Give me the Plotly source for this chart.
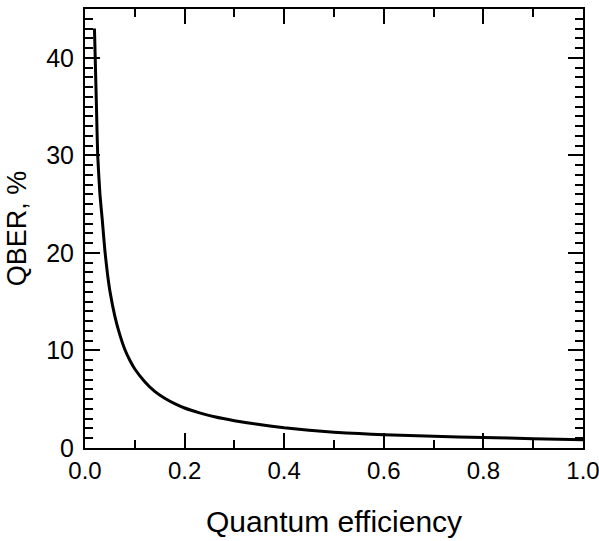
import plotly.graph_objects as go

efficiency = [0.019, 0.0205, 0.023, 0.0255, 0.03, 0.035, 0.04, 0.045, 0.05, 0.06, 0.07,
              0.08, 0.09, 0.1, 0.12, 0.14, 0.16, 0.18, 0.2, 0.23, 0.26, 0.3, 0.35,
              0.4, 0.45, 0.5, 0.55, 0.6, 0.7, 0.8, 0.9, 1.0]
qber = [43.0, 40.0, 35.0, 30.0, 26.0, 23.2, 20.2, 17.9, 16.1, 13.5, 11.6,
        10.1, 9.0, 8.1, 6.8, 5.8, 5.1, 4.55, 4.1, 3.6, 3.2, 2.8, 2.4,
        2.07, 1.82, 1.62, 1.48, 1.36, 1.2, 1.08, 0.95, 0.85]

x_ticks = [0.0, 0.2, 0.4, 0.6, 0.8, 1.0]
x_labels = ["0.0", "0.2", "0.4", "0.6", "0.8", "1.0"]
y_ticks = [0, 10, 20, 30, 40]

fig = go.Figure()
fig.add_trace(go.Scatter(x=efficiency, y=qber, mode="lines",
                         line=dict(color="black", width=3, shape="spline", smoothing=0.5),
                         showlegend=False, hoverinfo="skip", cliponaxis=True))

font = dict(family="Liberation Sans, Arial, sans-serif", color="black")
fig.update_layout(
    template="none",
    width=599, height=541,
    margin=dict(l=85, r=16, t=9, b=93),
    paper_bgcolor="white", plot_bgcolor="white",
    font=font,
    xaxis=dict(range=[0, 1], tickvals=x_ticks, ticktext=x_labels, automargin=False,
               ticklabeloverflow="allow",
               ticks="inside", ticklen=15, tickwidth=2, tickcolor="black",
               showline=True, linewidth=2, linecolor="black", mirror="ticks",
               showgrid=False, zeroline=False,
               tickfont=dict(size=24),
               minor=dict(dtick=0.1, ticks="inside", ticklen=8, tickwidth=2, tickcolor="black", showgrid=False),
               title=dict(text="Quantum efficiency", font=dict(size=30), standoff=28)),
    yaxis=dict(range=[0, 45], tickvals=y_ticks, automargin=False,
               ticklabeloverflow="allow",
               ticks="inside", ticklen=15, tickwidth=2, tickcolor="black",
               showline=True, linewidth=2, linecolor="black", mirror="ticks",
               showgrid=False, zeroline=False, ticklabelstandoff=4,
               tickfont=dict(size=25),
               minor=dict(dtick=1, ticks="inside", ticklen=8, tickwidth=2, tickcolor="black", showgrid=False),
               title=dict(text="QBER, %", font=dict(size=27), standoff=12)),
)

fig.write_html("out.html")
